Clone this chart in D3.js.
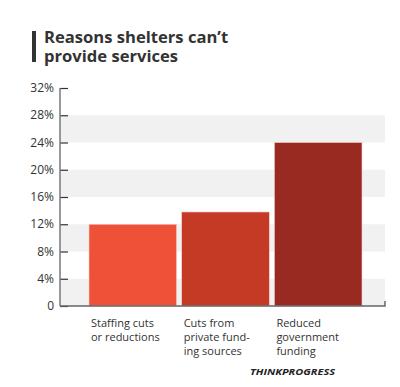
<!DOCTYPE html>
<html>
<head>
<meta charset="utf-8">
<script src="https://cdn.jsdelivr.net/npm/d3@7"></script>
<style>
  body { margin: 0; background: #fff; }
  text { font-family: "Open Sans", sans-serif; }
</style>
</head>
<body>
<script>
const categories = ["Staffing cuts or reductions", "Cuts from private funding sources", "Reduced government funding"];
const labelLines = [["Staffing cuts", "or reductions"], ["Cuts from", "private fund-", "ing sources"], ["Reduced", "government", "funding"]];
const values = [12, 13.8, 24];
const tickValues = [0, 4, 8, 12, 16, 20, 24, 28, 32];
const barColors = ["#ee5137", "#c43a25", "#982a21"];

const width = 400, height = 387;

const svg = d3.select("body")
  .append("svg")
  .attr("width", width)
  .attr("height", height);

// title with bar on the left
svg.append("rect")
  .attr("x", 32).attr("y", 31)
  .attr("width", 4).attr("height", 31)
  .attr("fill", "#333");

svg.append("text")
  .attr("x", 44).attr("y", 43)
  .attr("font-size", 16.6)
  .attr("font-weight", 700)
  .attr("fill", "#333")
  .selectAll("tspan")
  .data(["Reasons shelters can\u2019t", "provide services"])
  .join("tspan")
  .attr("x", 44)
  .attr("dy", (d, i) => i ? 19 : 0)
  .text(d => d);

const y = d3.scaleLinear().domain([0, 32]).range([306, 88]);
const x = d3.scaleBand().domain(categories).range([89, 362]).paddingInner(0.055);

const plotLeft = 60, plotRight = 385;

// gray bands
const bands = [0, 8, 16, 24];
svg.append("g")
  .selectAll("rect")
  .data(bands)
  .join("rect")
  .attr("x", plotLeft)
  .attr("width", plotRight - plotLeft)
  .attr("y", d => y(d + 4))
  .attr("height", d => y(d) - y(d + 4))
  .attr("fill", "#f1f1f1");

// bars
svg.append("g")
  .selectAll("rect")
  .data(values)
  .join("rect")
  .attr("x", (d, i) => x(categories[i]))
  .attr("width", x.bandwidth())
  .attr("y", d => y(d))
  .attr("height", d => y(0) - y(d))
  .attr("fill", (d, i) => barColors[i])
  .attr("stroke", "#f3d0cb")
  .attr("stroke-width", 0.6);

// y axis
const yAxis = svg.append("g")
  .attr("transform", `translate(${plotLeft},0)`)
  .call(d3.axisRight(y).tickValues(tickValues).tickSize(8).tickFormat(""));
yAxis.select(".domain").remove();
yAxis.selectAll(".tick line").attr("stroke", "#333").attr("stroke-width", 1.2);

svg.append("line")
  .attr("x1", plotLeft).attr("x2", plotLeft)
  .attr("y1", y(32)).attr("y2", y(0))
  .attr("stroke", "#777").attr("stroke-width", 1.5);

svg.append("g")
  .selectAll("text")
  .data(tickValues)
  .join("text")
  .attr("x", 54)
  .attr("y", d => y(d) + 4)
  .attr("text-anchor", "end")
  .attr("font-size", 12)
  .attr("fill", "#333")
  .text(d => d === 0 ? "0" : d + "%");

// baseline
svg.append("path")
  .attr("d", `M${plotLeft},${y(0)}H${plotRight}V${y(0) - 5}`)
  .attr("fill", "none")
  .attr("stroke", "#666")
  .attr("stroke-width", 1.5);

// category labels
svg.append("g")
  .selectAll("text")
  .data(labelLines)
  .join("text")
  .attr("x", (d, i) => x(categories[i]) + 2)
  .attr("y", 327)
  .attr("font-size", 11)
  .attr("fill", "#333")
  .selectAll("tspan")
  .data((d, i) => d.map(t => ({ t, i })))
  .join("tspan")
  .attr("x", d => x(categories[d.i]) + 2)
  .attr("dy", (d, j) => j ? 13.8 : 0)
  .text(d => d.t);

// watermark
svg.append("text")
  .attr("x", 250).attr("y", 375)
  .attr("font-family", "DejaVu Sans")
  .attr("font-size", 8.5)
  .attr("font-weight", 700)
  .attr("font-style", "italic")
  .attr("textLength", 85)
  .attr("lengthAdjust", "spacingAndGlyphs")
  .attr("fill", "#222")
  .text("THINKPROGRESS");
</script>
</body>
</html>
